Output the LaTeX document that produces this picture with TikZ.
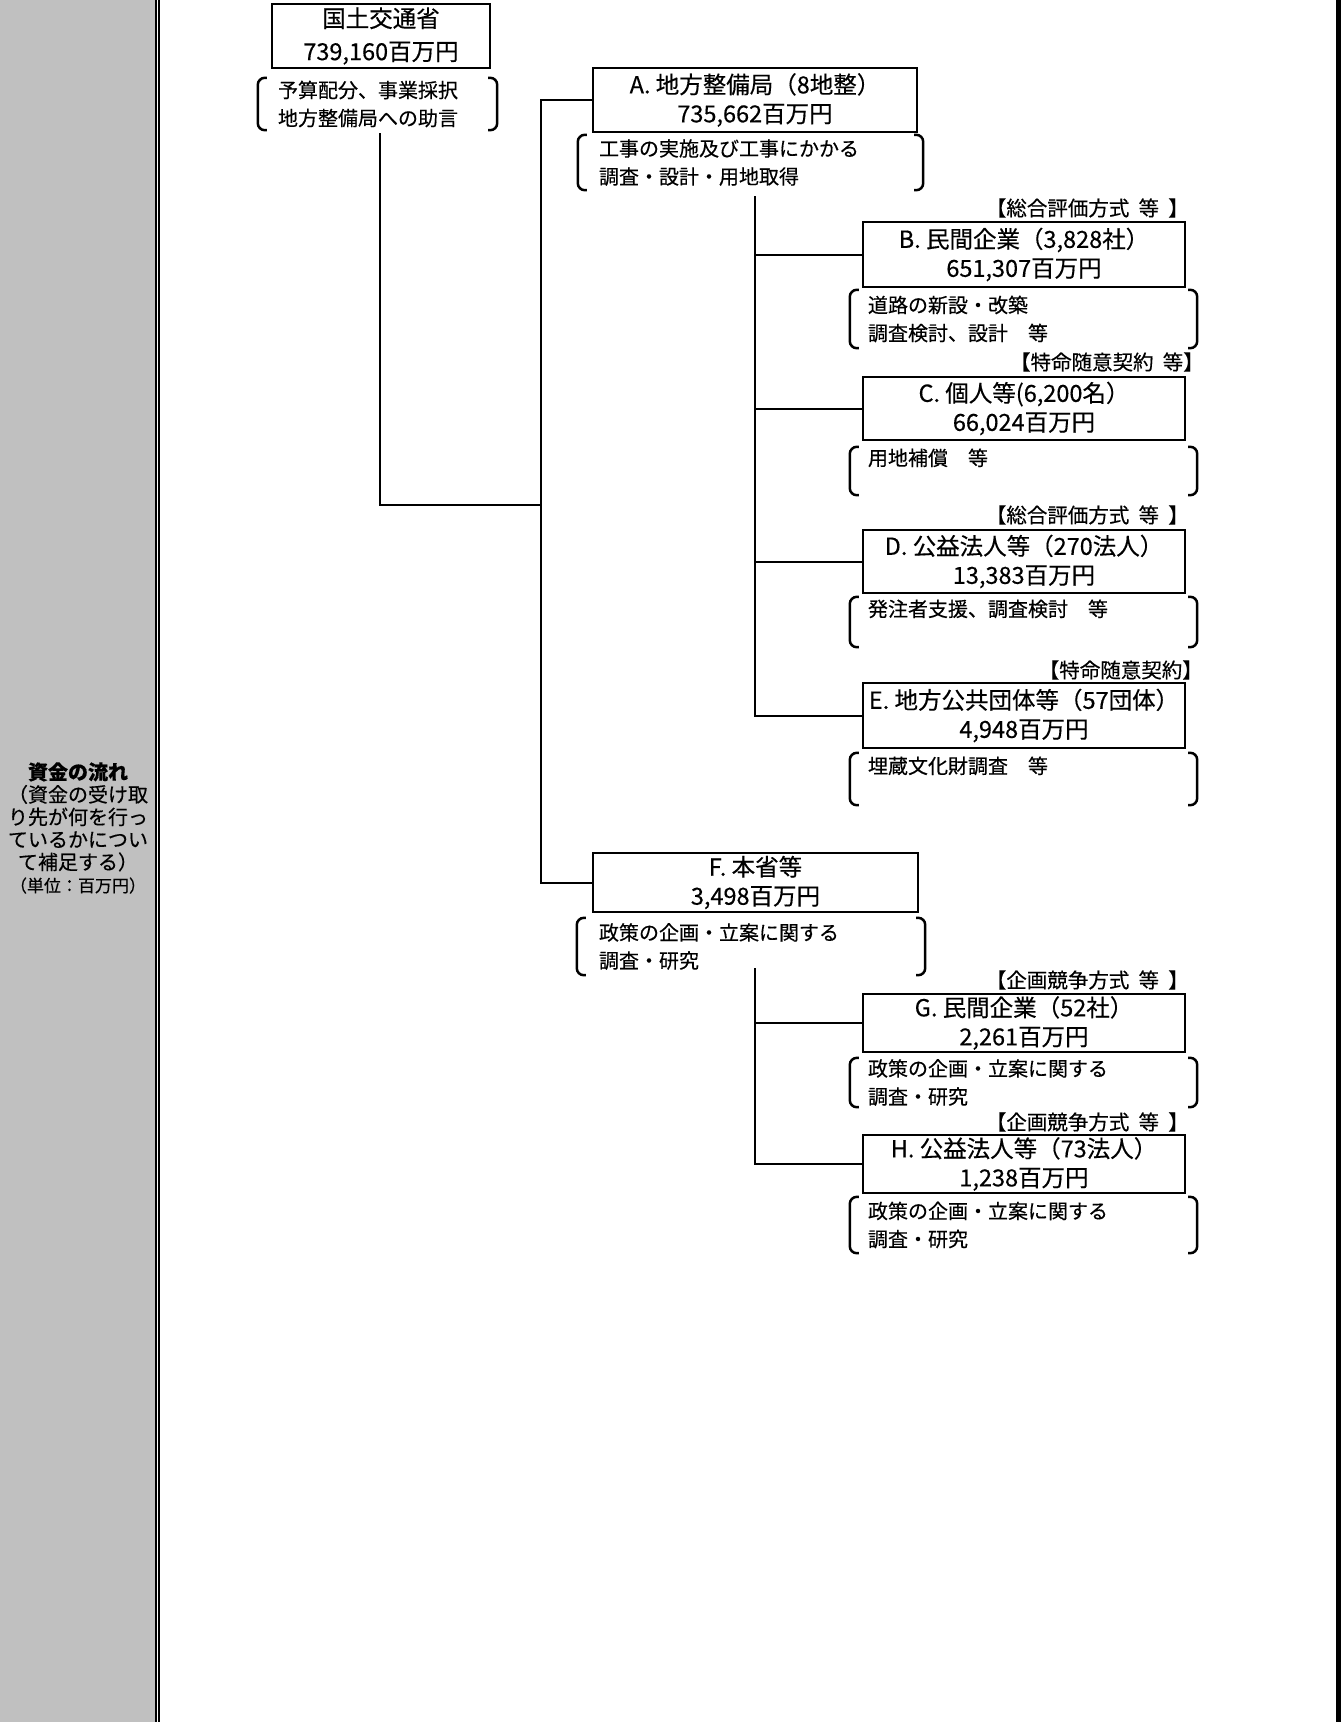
\documentclass[tikz,border=0pt]{standalone}
\usepackage{fontspec}
\setmainfont{Noto Sans CJK JP}[FakeBold=0.4]
\usetikzlibrary{calc}
\definecolor{panelgray}{HTML}{C0C0C0}
\newcommand\mybrk[1]{%
  \draw[brk] ($(#1.north west)+(9,0)$) -- (#1.north west) -- (#1.south west) -- ($(#1.south west)+(9,0)$);
  \draw[brk] ($(#1.north east)+(-9,0)$) -- (#1.north east) -- (#1.south east) -- ($(#1.south east)+(-9,0)$);}
\newcommand\tsp{\hspace{0.45em}}
\tikzset{
  box/.style={draw, line width=2pt, inner sep=0pt, align=center, font=\fontsize{23.5}{29}\selectfont},
  desc/.style={inner ysep=0pt, align=left, font=\fontsize{20}{28}\selectfont},
  brk/.style={line width=2.5pt, rounded corners=7pt},
  tag/.style={anchor=east, inner sep=0pt, font=\fontsize{20.5}{24}\selectfont},
  conn/.style={line width=2pt},
  side/.style={inner sep=0pt, align=center, font=\fontsize{20}{22.5}\selectfont},
}
\begin{document}
\begin{tikzpicture}[x=1pt,y=-1pt]
\useasboundingbox (0,0) rectangle (1341,1722);
% frame
\fill[panelgray] (0,0) rectangle (155,1722);
\fill[black] (155,0) rectangle (157,1722);
\fill[black] (158,0) rectangle (160,1722);
\fill[black] (1336,0) rectangle (1341,1722);
% side text
\node[side] (side) at (78,828) {{\bfseries 資金の流れ}\\（資金の受け取\\り先が何を行っ\\ているかについ\\て補足する）\\{\fontsize{17}{19}\selectfont （単位：百万円）}};
% top ministry
\node[box, minimum width=218, minimum height=64] (M) at (381,36) {国土交通省\\[4pt]739,160百万円};
\node[desc, minimum width=239, minimum height=52, text width=199, inner xsep=20] (Md) at (377.5,104) {予算配分、事業採択\\地方整備局への助言};
\mybrk{Md}
% A
\node[box, minimum width=324, minimum height=64] (A) at (755,100) {A. 地方整備局（8地整）\\735,662百万円};
\node[desc, minimum width=345, minimum height=55, text width=303, inner xsep=21] (Ad) at (750.5,162.5) {工事の実施及び工事にかかる\\調査・設計・用地取得};
\mybrk{Ad}
% B
\node[tag] (Bt) at (1189,208) {【総合評価方式\tsp 等\tsp 】};
\node[box, minimum width=322, minimum height=65] (B) at (1024,254.5) {B. 民間企業（3,828社）\\651,307百万円};
\node[desc, minimum width=347, minimum height=58, text width=311, inner xsep=18] (Bd) at (1023.5,319) {道路の新設・改築\\調査検討、設計　等};
\mybrk{Bd}
% C
\node[tag] (Ct) at (1204,362) {【特命随意契約\tsp 等】};
\node[box, minimum width=322, minimum height=63] (C) at (1024,408.5) {C. 個人等(6,200名）\\66,024百万円};
\node[desc, minimum width=347, minimum height=48, text width=311, inner xsep=18] (Cd) at (1023.5,471) {用地補償　等\\~};
\mybrk{Cd}
% D
\node[tag] (Dt) at (1189,515) {【総合評価方式\tsp 等\tsp 】};
\node[box, minimum width=322, minimum height=63] (D) at (1024,561.5) {D. 公益法人等（270法人）\\13,383百万円};
\node[desc, minimum width=347, minimum height=50, text width=311, inner xsep=18] (Dd) at (1023.5,622) {発注者支援、調査検討　等\\~};
\mybrk{Dd}
% E
\node[tag] (Et) at (1203,670) {【特命随意契約】};
\node[box, minimum width=322, minimum height=65] (E) at (1024,715.5) {E. 地方公共団体等（57団体）\\4,948百万円};
\node[desc, minimum width=347, minimum height=52, text width=311, inner xsep=18] (Ed) at (1023.5,779) {埋蔵文化財調査　等\\~};
\mybrk{Ed}
% F
\node[box, minimum width=325, minimum height=59] (F) at (755.5,882.5) {F. 本省等\\3,498百万円};
\node[desc, minimum width=348, minimum height=57, text width=304, inner xsep=22] (Fd) at (751,946.5) {政策の企画・立案に関する\\調査・研究};
\mybrk{Fd}
% G
\node[tag] (Gt) at (1189,980) {【企画競争方式\tsp 等\tsp 】};
\node[box, minimum width=322, minimum height=58] (G) at (1024,1023) {G. 民間企業（52社）\\2,261百万円};
\node[desc, minimum width=347, minimum height=49, text width=311, inner xsep=18] (Gd) at (1023.5,1082.5) {政策の企画・立案に関する\\調査・研究};
\mybrk{Gd}
% H
\node[tag] (Ht) at (1189,1122) {【企画競争方式\tsp 等\tsp 】};
\node[box, minimum width=322, minimum height=58] (H) at (1024,1164) {H. 公益法人等（73法人）\\1,238百万円};
\node[desc, minimum width=347, minimum height=56, text width=311, inner xsep=18] (Hd) at (1023.5,1225) {政策の企画・立案に関する\\調査・研究};
\mybrk{Hd}
% connectors
\coordinate (j1) at (541,505);
\coordinate (tr) at (541,100);
\coordinate (sA) at (755,196);
\coordinate (sF) at (755,968);
\draw[conn] (380,133) -- (380,505) -- (j1);
\draw[conn] (A.west) -- (A.west -| tr) -- (F.west -| tr) -- (F.west);
\draw[conn] (sA) -- (sA |- E.west) -- (E.west);
\draw[conn] (B.west -| sA) -- (B.west);
\draw[conn] (C.west -| sA) -- (C.west);
\draw[conn] (D.west -| sA) -- (D.west);
\draw[conn] (sF) -- (sF |- H.west) -- (H.west);
\draw[conn] (G.west -| sF) -- (G.west);
\end{tikzpicture}
\end{document}
